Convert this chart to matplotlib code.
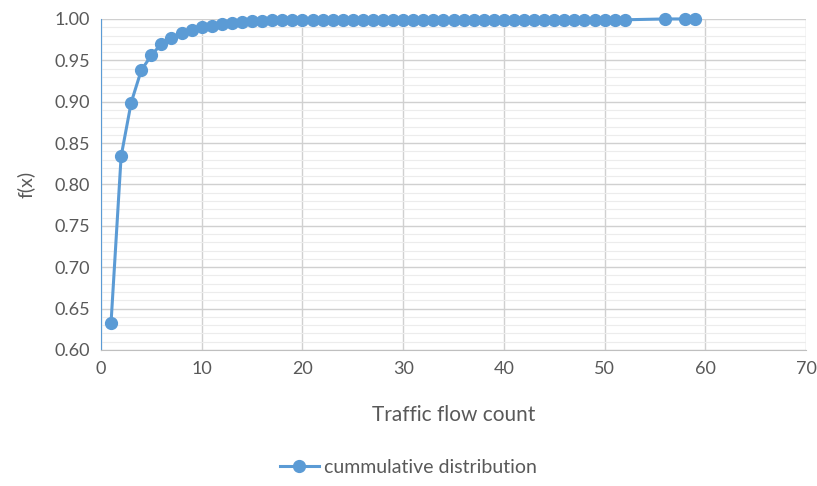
import matplotlib.pyplot as plt
from matplotlib.ticker import MultipleLocator

x = list(range(1, 53)) + [56, 58, 59]
fx = [0.633, 0.834, 0.899, 0.938, 0.956, 0.970, 0.977, 0.983, 0.987, 0.990,
      0.992, 0.994, 0.995, 0.996, 0.997, 0.998] + [0.999] * 36 + [1.0, 1.0, 1.0]

plt.rcParams['font.family'] = ['Lato', 'DejaVu Sans']
txt = '#595959'
blue = '#5B9BD5'

fig = plt.figure(figsize=(8.17, 4.86), dpi=100)
ax = fig.add_axes([0.1236, 0.280, 0.863, 0.681])

ax.plot(x, fx, color=blue, lw=2.2, marker='o', ms=8.5, label='cummulative distribution',
        zorder=3, clip_on=False)

ax.set_xlim(0, 70)
ax.set_ylim(0.60, 1.00)
ax.xaxis.set_major_locator(MultipleLocator(10))
ax.yaxis.set_major_locator(MultipleLocator(0.05))
ax.yaxis.set_minor_locator(MultipleLocator(0.01))
ax.yaxis.set_major_formatter(lambda v, p: f'{v:.2f}')
ax.grid(which='major', color='#d0d0d0', lw=1)
ax.grid(which='minor', axis='y', color='#ececec', lw=0.8)
ax.set_axisbelow(True)

for s in ['top', 'right']:
    ax.spines[s].set_visible(False)
ax.spines['left'].set_color(blue)
ax.spines['bottom'].set_color('#bfbfbf')
ax.tick_params(which='both', length=0, labelsize=13, colors=txt, pad=8)

ax.set_xlabel('Traffic flow count', fontsize=15, color=txt, labelpad=20)
ax.set_ylabel('f(x)', fontsize=14, color=txt, labelpad=14)

fig.legend(loc='lower center', bbox_to_anchor=(0.5, 0.0), borderaxespad=0.1,
           frameon=False, fontsize=14, labelcolor=txt, handlelength=2.0,
           handletextpad=0.3)

fig.savefig('out.png', dpi=100)
